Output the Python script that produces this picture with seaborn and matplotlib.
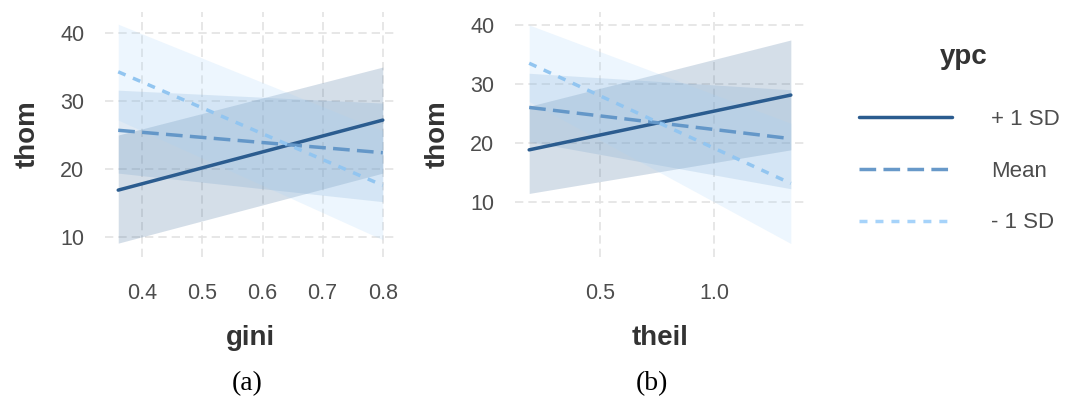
import matplotlib
matplotlib.use("Agg")
import matplotlib.pyplot as plt
from matplotlib.lines import Line2D
import numpy as np
import pandas as pd
import seaborn as sns

# Values (endpoints of the fitted lines and their bands)
levels = ["+ 1 SD", "Mean", "- 1 SD"]

gini = [0.36, 0.80]
gini_fit = {"+ 1 SD": [16.9, 27.2], "Mean": [25.7, 22.4], "- 1 SD": [34.3, 17.6]}
gini_lo = {"+ 1 SD": [9.1, 19.4], "Mean": [19.4, 15.2], "- 1 SD": [27.2, 9.6]}
gini_hi = {"+ 1 SD": [25.0, 35.0], "Mean": [31.6, 29.7], "- 1 SD": [41.3, 25.6]}

theil = [0.19, 1.335]
theil_fit = {"+ 1 SD": [18.8, 28.1], "Mean": [26.0, 20.7], "- 1 SD": [33.5, 13.1]}
theil_lo = {"+ 1 SD": [11.4, 18.8], "Mean": [20.2, 12.2], "- 1 SD": [27.0, 2.9]}
theil_hi = {"+ 1 SD": [26.2, 37.45], "Mean": [31.8, 29.0], "- 1 SD": [40.0, 23.3]}

colors = {"+ 1 SD": "#2b5c8f", "Mean": "#6899c9", "- 1 SD": "#a6d3fa"}
line_colors = {"+ 1 SD": "#2b5c8f", "Mean": "#6497c8", "- 1 SD": "#92c5f0"}
dashes = {"+ 1 SD": "", "Mean": (4.8, 2.1), "- 1 SD": (2.3, 2.3)}

sns.set_theme(style="white")
plt.rcParams["font.family"] = ["Liberation Sans", "DejaVu Sans"]

fig = plt.figure(figsize=(10.72, 3.98), dpi=100)
ax_a = fig.add_axes([105 / 1072, 141 / 398, 291 / 1072, 245 / 398])
ax_b = fig.add_axes([515 / 1072, 141 / 398, 290 / 1072, 245 / 398])


def long_frame(xs, fit, lo, hi):
    rows = []
    for lev in levels:
        for i, xv in enumerate(xs):
            rows.append({"x": xv, "thom": fit[lev][i], "lo": lo[lev][i],
                         "hi": hi[lev][i], "ypc": lev})
    return pd.DataFrame(rows)


def draw_panel(ax, df, xlabel, xlim, ylim, xticks, xticklabels):
    for lev in levels:
        sub = df[df["ypc"] == lev]
        ax.fill_between(sub["x"], sub["lo"], sub["hi"], color=colors[lev],
                        alpha=0.2, linewidth=0)
    sns.lineplot(data=df, x="x", y="thom", hue="ypc", style="ypc",
                 hue_order=levels, style_order=levels, palette=line_colors,
                 dashes=dashes, linewidth=2.5, legend=False, ax=ax)
    ax.set_xlim(*xlim)
    ax.set_ylim(*ylim)
    ax.set_xticks(xticks)
    ax.set_xticklabels(xticklabels)
    ax.set_yticks([10, 20, 30, 40])
    ax.set_yticklabels(["10", "20", "30", "40"])
    ax.grid(True, color="#e3e3e3", linestyle=(0, (5, 3)), linewidth=1.2)
    ax.set_axisbelow(True)
    for s in ax.spines.values():
        s.set_visible(False)
    ax.tick_params(axis="both", length=0, labelsize=15.5, labelcolor="#4d4d4d")
    ax.tick_params(axis="x", pad=19)
    ax.tick_params(axis="y", pad=15)
    ax.set_xlabel(xlabel, fontsize=20, fontweight="bold", color="#333333", labelpad=15)
    ax.set_ylabel("thom", fontsize=20, fontweight="bold", color="#333333", labelpad=14)


df_a = long_frame(gini, gini_fit, gini_lo, gini_hi)
df_b = long_frame(theil, theil_fit, theil_lo, theil_hi)

draw_panel(ax_a, df_a, "gini", (0.338, 0.822), (7.06, 43.1),
           [0.4, 0.5, 0.6, 0.7, 0.8], ["0.4", "0.5", "0.6", "0.7", "0.8"])
draw_panel(ax_b, df_b, "theil", (0.128, 1.397), (0.61, 42.2),
           [0.5, 1.0], ["0.5", "1.0"])

# legend (title placed separately to match the larger gap in the reference)
handles = [Line2D([0], [0], color=colors[lev], linewidth=2.5,
                  linestyle="-" if lev == "+ 1 SD" else (0, dashes[lev]))
           for lev in levels]
leg = fig.legend(handles, levels, loc="upper left",
                 bbox_to_anchor=(859 / 1072, 1 - 109 / 398),
                 frameon=False, fontsize=16, handlelength=4.2,
                 handletextpad=1.75, labelspacing=1.38,
                 borderpad=0, borderaxespad=0)
for t in leg.get_texts():
    t.set_color("#4d4d4d")
fig.text(964 / 1072, 1 - 57 / 398, "ypc", ha="center", va="center",
         fontsize=20, fontweight="bold", color="#333333")

fig.text(247 / 1072, 14 / 398, "(a)", ha="center", va="center", fontsize=20,
         family="Liberation Serif", color="black")
fig.text(652 / 1072, 14 / 398, "(b)", ha="center", va="center", fontsize=20,
         family="Liberation Serif", color="black")

fig.savefig("out.png", dpi=100)
